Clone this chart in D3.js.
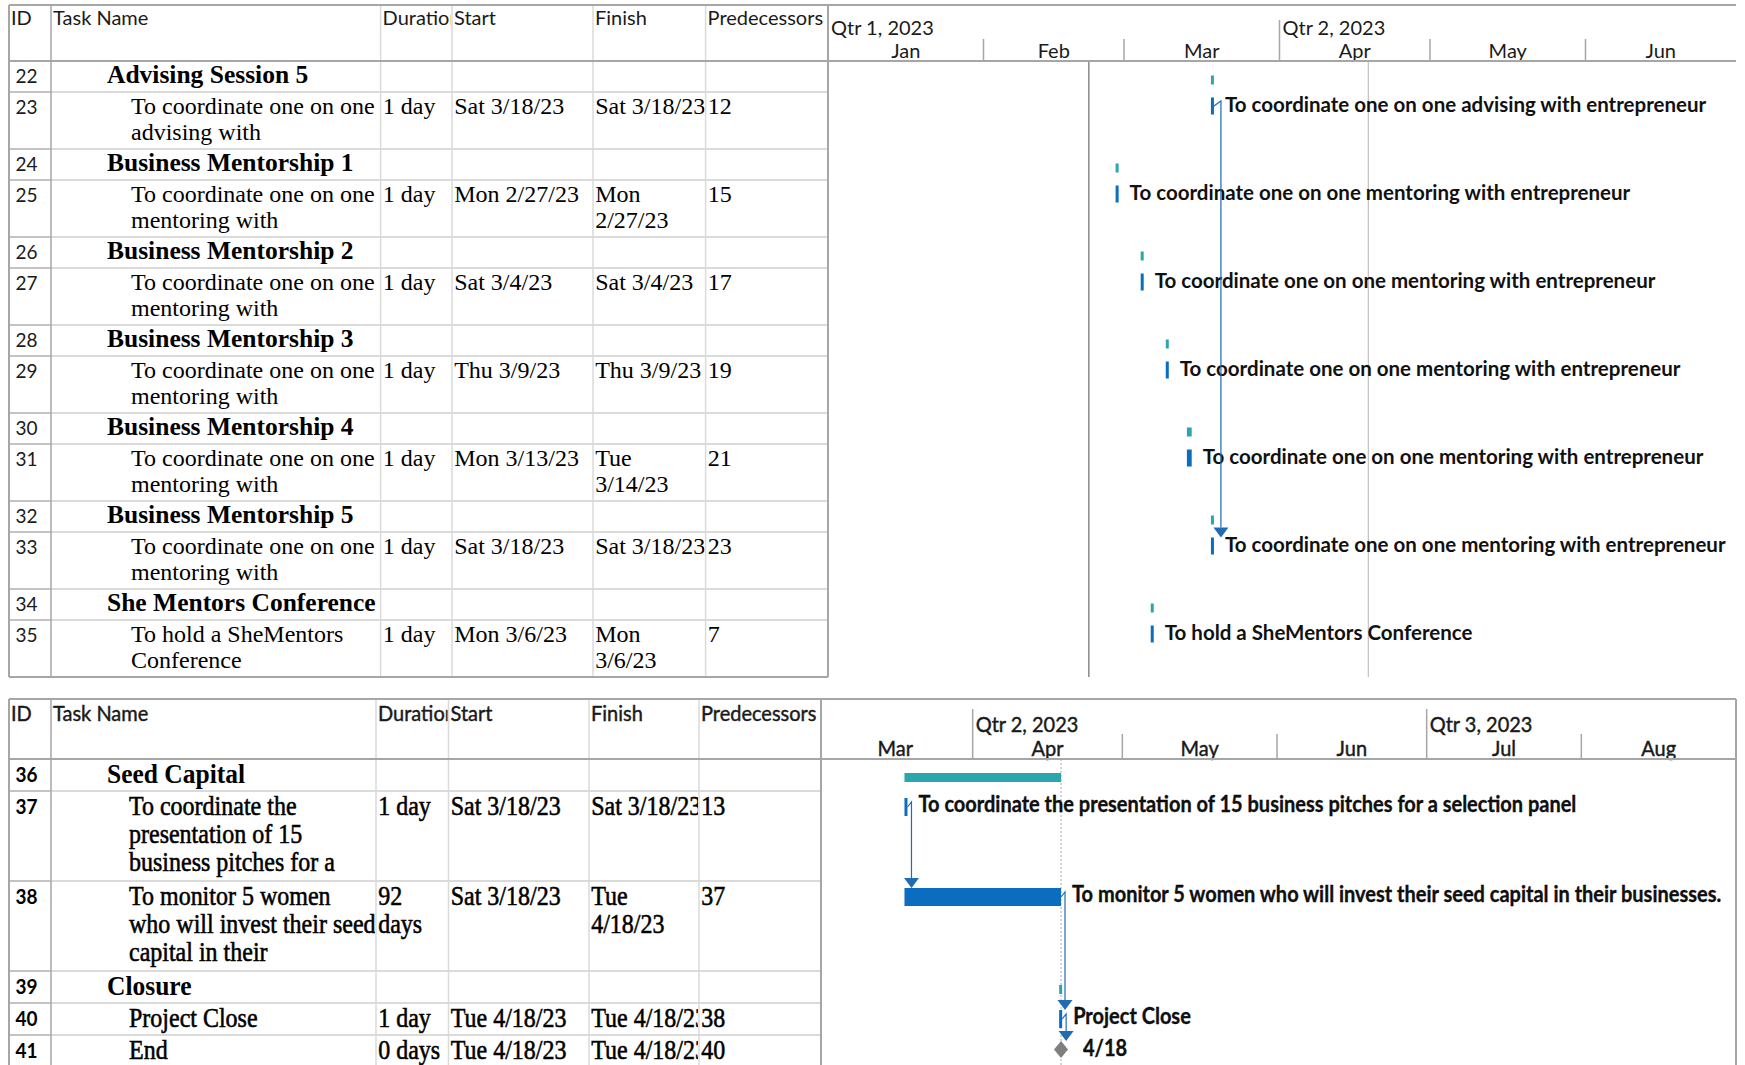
<!DOCTYPE html>
<html><head><meta charset="utf-8">
<script src="https://cdn.jsdelivr.net/npm/d3@7"></script>
<style>
body{margin:0;background:#fff;}
svg{display:block;}
.hdr{font-family:Lato,'Open Sans',sans-serif;font-size:20px;fill:#1a1a1a;}
.tl{font-family:Lato,'Open Sans',sans-serif;font-size:20px;fill:#1a1a1a;}
.id1{font-family:Lato,'Open Sans',sans-serif;font-size:19px;fill:#1a1a1a;}
.id2{font-family:Lato,'Open Sans',sans-serif;font-size:19px;font-weight:bold;fill:#000;}
.cell{font-family:'Liberation Serif','Times New Roman',serif;font-size:24px;fill:#000;}
.sum{font-family:'Liberation Serif','Times New Roman',serif;font-size:25.5px;font-weight:bold;fill:#000;}
.lbl{font-family:Lato,'Open Sans',sans-serif;font-size:20.5px;font-weight:bold;fill:#111;}
.p2 .cell{stroke:#000;stroke-width:0.5;}
.p2 .hdr,.p2 .tl{stroke:#1a1a1a;stroke-width:0.4;}
.p2 .lbl{font-size:20px;stroke:#000;stroke-width:0.3;}
</style></head>
<body>
<svg id="chart" width="1745" height="1065"></svg>
<script>
// ================= DATA =================
// Column headers
const columnHeaders = ["ID","Task Name","Duration","Start","Finish","Predecessors"];

// ---- Panel 1 ----
const ids1 = [22,23,24,25,26,27,28,29,30,31,32,33,34,35];
const isSummary1 = [1,0,1,0,1,0,1,0,1,0,1,0,1,0];
const nameLines1 = [
  ["Advising Session 5"],
  ["To coordinate one on one","advising with"],
  ["Business Mentorship 1"],
  ["To coordinate one on one","mentoring with"],
  ["Business Mentorship 2"],
  ["To coordinate one on one","mentoring with"],
  ["Business Mentorship 3"],
  ["To coordinate one on one","mentoring with"],
  ["Business Mentorship 4"],
  ["To coordinate one on one","mentoring with"],
  ["Business Mentorship 5"],
  ["To coordinate one on one","mentoring with"],
  ["She Mentors Conference"],
  ["To hold a SheMentors","Conference"]
];
const barLabels1 = [null,"To coordinate one on one advising with entrepreneur",
  null,"To coordinate one on one mentoring with entrepreneur",
  null,"To coordinate one on one mentoring with entrepreneur",
  null,"To coordinate one on one mentoring with entrepreneur",
  null,"To coordinate one on one mentoring with entrepreneur",
  null,"To coordinate one on one mentoring with entrepreneur",
  null,"To hold a SheMentors Conference"];
const durations1 = [[],["1 day"],[],["1 day"],[],["1 day"],[],["1 day"],[],["1 day"],[],["1 day"],[],["1 day"]];
const starts1 = [[],["Sat 3/18/23"],[],["Mon 2/27/23"],[],["Sat 3/4/23"],[],["Thu 3/9/23"],[],["Mon 3/13/23"],[],["Sat 3/18/23"],[],["Mon 3/6/23"]];
const finishes1 = [[],["Sat 3/18/23"],[],["Mon","2/27/23"],[],["Sat 3/4/23"],[],["Thu 3/9/23"],[],["Tue","3/14/23"],[],["Sat 3/18/23"],[],["Mon","3/6/23"]];
const preds1 = [[],["12"],[],["15"],[],["17"],[],["19"],[],["21"],[],["23"],[],["7"]];
const barStart1 = ["2023-03-18T08:00","2023-03-18T08:00","2023-02-27T08:00","2023-02-27T08:00",
  "2023-03-04T08:00","2023-03-04T08:00","2023-03-09T08:00","2023-03-09T08:00",
  "2023-03-13T13:00","2023-03-13T13:00","2023-03-18T08:00","2023-03-18T08:00",
  "2023-03-06T08:00","2023-03-06T08:00"];
const barEnd1 = ["2023-03-18T17:00","2023-03-18T17:00","2023-02-27T17:00","2023-02-27T17:00",
  "2023-03-04T17:00","2023-03-04T17:00","2023-03-09T17:00","2023-03-09T17:00",
  "2023-03-14T12:00","2023-03-14T12:00","2023-03-18T17:00","2023-03-18T17:00",
  "2023-03-06T17:00","2023-03-06T17:00"];
const isMilestone1 = [0,0,0,0,0,0,0,0,0,0,0,0,0,0];
const links1 = [[23,33]];
const timeDomain1 = ["2023-01-01T00:00","2023-07-01T00:00"];
const quarters1 = [["Qtr 1, 2023","2023-01-01T00:00"],["Qtr 2, 2023","2023-04-01T00:00"]];
const months1 = [["Jan","2023-01-01T00:00"],["Feb","2023-02-01T00:00"],["Mar","2023-03-01T00:00"],
  ["Apr","2023-04-01T00:00"],["May","2023-05-01T00:00"],["Jun","2023-06-01T00:00"]];
const markers1 = [["2023-02-22T00:00","current"],["2023-04-18T17:00","finish"]];

// ---- Panel 2 ----
const ids2 = [36,37,38,39,40,41];
const isSummary2 = [1,0,0,1,0,0];
const nameLines2 = [
  ["Seed Capital"],
  ["To coordinate the","presentation of 15","business pitches for a"],
  ["To monitor 5 women","who will invest their seed","capital in their"],
  ["Closure"],
  ["Project Close"],
  ["End"]
];
const barLabels2 = [null,"To coordinate the presentation of 15 business pitches for a selection panel",
  "To monitor 5 women who will invest their seed capital in their businesses.",
  null,"Project Close","4/18"];
const durations2 = [[],["1 day"],["92","days"],[],["1 day"],["0 days"]];
const starts2 = [[],["Sat 3/18/23"],["Sat 3/18/23"],[],["Tue 4/18/23"],["Tue 4/18/23"]];
const finishes2 = [[],["Sat 3/18/23"],["Tue","4/18/23"],[],["Tue 4/18/23"],["Tue 4/18/23"]];
const preds2 = [[],["13"],["37"],[],["38"],["40"]];
const barStart2 = ["2023-03-18T08:00","2023-03-18T08:00","2023-03-18T08:00","2023-04-18T08:00","2023-04-18T08:00","2023-04-18T17:00"];
const barEnd2 = ["2023-04-18T17:00","2023-03-18T17:00","2023-04-18T17:00","2023-04-18T17:00","2023-04-18T17:00","2023-04-18T17:00"];
const isMilestone2 = [0,0,0,0,0,1];
const links2 = [[37,38],[38,40],[40,41]];
const timeDomain2 = ["2023-03-01T00:00","2023-09-01T00:00"];
const quarters2 = [["Qtr 2, 2023","2023-04-01T00:00"],["Qtr 3, 2023","2023-07-01T00:00"]];
const months2 = [["Mar","2023-03-01T00:00"],["Apr","2023-04-01T00:00"],["May","2023-05-01T00:00"],
  ["Jun","2023-06-01T00:00"],["Jul","2023-07-01T00:00"],["Aug","2023-08-01T00:00"]];
const markers2 = [["2023-04-18T17:00","finishDotted"]];

// ================= LAYOUT / STYLE =================
const C = {
  border:"#a6a6a6", grid:"#dadada", gridId:"#c4c4c4",
  summary:"#2ba6aa", task:"#0b6dc0", link:"#1f6cb5", milestone:"#7f7f7f",
  current:"#6a6a6a", finish:"#c0c0c0"
};
const panel1 = {
  cls:"p1", top:5, headerBottom:61, bottomLimit:2000,
  colX:[9,51,380.6,452,593,705.6,828], chartRight:1736, xRange:[828,1736],
  rowH:n => n===1 ? 31 : 57, sy:1,
  qTop:20, mTop:39, qBase:35, mBase:58, hdrBase:25,
  idX:15.6, sumX:107, taskX:131, base:22, lineGap:25.6,
  sumBarY:14.5, sumBarH:9, taskBarY:5.5, taskBarH:17, lblBase:19.5, linkDx:7,
  drawBottomLine:true, rightBorder:false,
  ids:ids1, isSummary:isSummary1, nameLines:nameLines1, barLabels:barLabels1,
  cols:[durations1,starts1,finishes1,preds1], barStart:barStart1, barEnd:barEnd1,
  isMilestone:isMilestone1, links:links1, domain:timeDomain1, quarters:quarters1,
  months:months1, markers:markers1, idCls:"id1"
};
const panel2 = {
  cls:"p2", top:699, headerBottom:759, bottomLimit:1070,
  colX:[9,51,376,448.5,589,699,821], chartRight:1736, xRange:[818,1736],
  rowH:n => n===1 ? 32 : 90, sy:1.1,
  qTop:709, mTop:734, qBase:732, mBase:756, hdrBase:721,
  idX:15.6, sumX:107, taskX:129, base:23.5, lineGap:28.4,
  sumBarY:14, sumBarH:9, taskBarY:7, taskBarH:18, lblBase:21, linkDx:4,
  drawBottomLine:false, rightBorder:true,
  ids:ids2, isSummary:isSummary2, nameLines:nameLines2, barLabels:barLabels2,
  cols:[durations2,starts2,finishes2,preds2], barStart:barStart2, barEnd:barEnd2,
  isMilestone:isMilestone2, links:links2, domain:timeDomain2, quarters:quarters2,
  months:months2, markers:markers2, idCls:"id2"
};

// ================= DRAW =================
const parse = d3.timeParse("%Y-%m-%dT%H:%M");
const svg = d3.select("#chart");
let clipN = 0;

function addText(sel, x, y, s, cls, sy) {
  return sel.append("text").attr("class", cls)
    .attr("transform", `translate(${x},${y}) scale(1,${sy})`).text(s);
}
function line(sel, x1, y1, x2, y2, stroke, w, dash) {
  const l = sel.append("line").attr("x1",x1).attr("y1",y1).attr("x2",x2).attr("y2",y2)
    .attr("stroke",stroke).attr("stroke-width",w);
  if (dash) l.attr("stroke-dasharray", dash);
  return l;
}
function clip(x, y, w, h) {
  const id = "clip" + (clipN++);
  svg.append("clipPath").attr("id", id).append("rect")
    .attr("x",x).attr("y",y).attr("width",w).attr("height",h);
  return `url(#${id})`;
}

function drawPanel(p) {
  const g = svg.append("g").attr("class", p.cls);
  const x = d3.scaleTime().domain(p.domain.map(parse)).range(p.xRange);
  const chartL = p.colX[6], chartR = p.chartRight;

  // row geometry
  const tops = [];
  let yy = p.headerBottom;
  p.ids.forEach((id,i) => { tops.push(yy); yy += p.rowH(p.nameLines[i].length); });
  const bottom = Math.min(yy, p.bottomLimit);
  const idxOf = id => p.ids.indexOf(id);

  // ---- grid: row separators ----
  tops.slice(1).concat(p.drawBottomLine ? [] : [bottom]).forEach(t => {
    line(g, p.colX[1], t, chartL, t, C.grid, 2);
    line(g, p.colX[0], t, p.colX[1], t, C.gridId, 2);
  });
  // column separators
  for (let c = 2; c <= 5; c++) line(g, p.colX[c], p.top, p.colX[c], bottom, C.grid, 1.5);

  // ---- column clip paths ----
  const colClips = [];
  for (let c = 0; c < 6; c++)
    colClips.push(clip(p.colX[c], p.top, p.colX[c+1] - p.colX[c] - 1, bottom - p.top));

  // ---- headers ----
  columnHeaders.forEach((h, c) => {
    g.append("g").attr("clip-path", colClips[c])
      .call(s => addText(s, p.colX[c] + 2, p.hdrBase, h, "hdr", p.sy));
  });

  // ---- table cells ----
  p.ids.forEach((id, i) => {
    const t = tops[i];
    addText(g.append("g").attr("clip-path", colClips[0]), p.idX, t + p.base - 0.5, id, p.idCls, p.sy);
    const nameG = g.append("g").attr("clip-path", colClips[1]);
    p.nameLines[i].forEach((s, k) => {
      addText(nameG, p.isSummary[i] ? p.sumX : p.taskX, t + p.base + k * p.lineGap, s,
        p.isSummary[i] ? "sum" : "cell", p.sy);
    });
    p.cols.forEach((col, c) => {
      const cg = g.append("g").attr("clip-path", colClips[c + 2]);
      col[i].forEach((s, k) => addText(cg, p.colX[c + 2] + 2.2, t + p.base + k * p.lineGap, s, "cell", p.sy));
    });
  });

  // ---- timeline header ----
  const tg = g.append("g").attr("clip-path", clip(chartL, p.top, chartR - chartL, bottom - p.top));
  p.quarters.forEach(([lab, d]) => {
    const qx = x(parse(d));
    if (qx > chartL + 2) line(tg, qx, p.qTop, qx, p.headerBottom, C.border, 1.5);
    addText(tg, Math.max(qx, chartL) + 3, p.qBase, lab, "tl", p.sy);
  });
  const qStarts = p.quarters.map(q => q[1]);
  p.months.forEach(([lab, d], k) => {
    const m0 = x(parse(d));
    const m1 = k + 1 < p.months.length ? x(parse(p.months[k + 1][1])) : x(d3.timeMonth.offset(parse(d), 1));
    if (m0 > chartL + 2 && !qStarts.includes(d)) line(tg, m0, p.mTop, m0, p.headerBottom, C.border, 1.5);
    addText(tg, (m0 + m1) / 2, p.mBase, lab, "tl", p.sy).attr("text-anchor", "middle");
  });

  // ---- markers ----
  p.markers.forEach(([d, kind]) => {
    const mx = x(parse(d));
    if (kind === "current") line(tg, mx, p.headerBottom, mx, bottom, C.current, 1.2);
    else if (kind === "finish") line(tg, mx, p.headerBottom, mx, bottom, C.finish, 1.2);
    else line(tg, mx, p.headerBottom, mx, bottom, "#b8b8b8", 1.2, "2,2");
  });

  // ---- bars ----
  const barInfo = [];
  p.ids.forEach((id, i) => {
    const t = tops[i];
    const xs = x(parse(p.barStart[i])), xe = x(parse(p.barEnd[i]));
    if (p.isMilestone[i]) {
      const cy = t + 14.5, hw = 7, hh = 8.5;
      tg.append("path").attr("d", `M${xe},${cy-hh}L${xe+hw},${cy}L${xe},${cy+hh}L${xe-hw},${cy}Z`)
        .attr("fill", C.milestone);
      barInfo[i] = {left: xe - hw, right: xe + hw, top: cy - hh, mid: cy, center: xe};
      if (p.barLabels[i]) addText(tg, xe + 22, t + p.lblBase, p.barLabels[i], "lbl", p.sy);
      return;
    }
    const w = Math.max(3, xe - xs);
    if (p.isSummary[i]) {
      tg.append("rect").attr("x", xs).attr("y", t + p.sumBarY).attr("width", w).attr("height", p.sumBarH)
        .attr("fill", C.summary);
      barInfo[i] = {left: xs, right: xs + w, top: t + p.sumBarY, mid: t + p.sumBarY + p.sumBarH / 2};
    } else {
      tg.append("rect").attr("x", xs).attr("y", t + p.taskBarY).attr("width", w).attr("height", p.taskBarH)
        .attr("fill", C.task);
      barInfo[i] = {left: xs, right: xs + w, top: t + p.taskBarY, mid: t + p.taskBarY + p.taskBarH / 2};
      if (p.barLabels[i]) addText(tg, xs + w + 11, t + p.lblBase, p.barLabels[i], "lbl", p.sy);
    }
  });

  // ---- links ----
  p.links.forEach(([a, b]) => {
    const A = barInfo[idxOf(a)], B = barInfo[idxOf(b)];
    const lx = A.right + p.linkDx;
    const arrowH = 10, arrowW = 7.5;
    tg.append("path")
      .attr("d", `M${A.right},${A.mid}L${lx},${A.mid - 5}L${lx},${B.top - arrowH}`)
      .attr("fill", "none").attr("stroke", C.link).attr("stroke-width", 1.2);
    tg.append("path")
      .attr("d", `M${lx - arrowW},${B.top - arrowH}L${lx + arrowW},${B.top - arrowH}L${lx},${B.top}Z`)
      .attr("fill", C.link);
  });

  // ---- borders ----
  line(g, p.colX[0], p.top, chartR, p.top, C.border, 2);
  line(g, p.colX[0], p.headerBottom, chartR, p.headerBottom, C.border, 2);
  line(g, p.colX[0], p.top, p.colX[0], bottom, C.border, 2);
  line(g, p.colX[1], p.top, p.colX[1], bottom, C.border, 1.5);
  line(g, chartL, p.top, chartL, bottom, C.border, 2);
  if (p.drawBottomLine) line(g, p.colX[0], bottom, chartL, bottom, C.border, 2);
  if (p.rightBorder) line(g, chartR, p.top, chartR, bottom, C.border, 2);
}

drawPanel(panel1);
drawPanel(panel2);
</script>
</body></html>
